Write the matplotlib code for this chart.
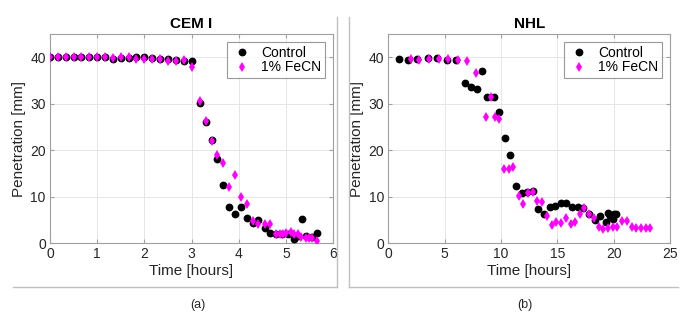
import matplotlib
matplotlib.use("Agg")
import matplotlib.pyplot as plt
from matplotlib.lines import Line2D

plt.rcParams['font.family'] = ['Liberation Sans', 'DejaVu Sans']

# ---- CEM I data ----
cem_ctrl_t = [0, 0.167, 0.333, 0.5, 0.667, 0.833, 1.0, 1.167, 1.333, 1.5, 1.667, 1.833,
              2.0, 2.167, 2.333, 2.5, 2.667, 2.833, 3.0,
              3.17, 3.30, 3.43, 3.55, 3.67, 3.80, 3.92, 4.05, 4.17, 4.30, 4.42, 4.55,
              4.67, 4.80, 4.92, 5.05, 5.17, 5.25, 5.35, 5.43, 5.55, 5.67]
cem_ctrl_v = [40, 40, 40, 40, 40, 40, 40, 40, 39.6, 39.8, 39.8, 40,
              40, 39.9, 39.7, 39.6, 39.4, 39.2, 39.1,
              30.1, 26.0, 22.2, 18.1, 12.6, 7.7, 6.2, 7.9, 5.5, 4.4, 5.0, 3.2,
              2.2, 2.1, 2.0, 1.9, 0.9, 1.5, 5.3, 1.5, 1.4, 2.3]

cem_fecn_t = [0, 0.167, 0.333, 0.5, 0.667, 0.833, 1.0, 1.167, 1.333, 1.5, 1.667, 1.833,
              2.0, 2.167, 2.333, 2.5, 2.667, 2.833, 3.0,
              3.17, 3.30, 3.43, 3.55, 3.67, 3.80, 3.92, 4.05, 4.17, 4.30, 4.42, 4.55,
              4.67, 4.79, 4.87, 4.94, 5.01, 5.11, 5.18, 5.26, 5.33, 5.42, 5.49, 5.56, 5.67]
cem_fecn_v = [40, 40, 40, 40, 40, 40, 40, 40, 39.8, 40, 40, 39.6,
              39.6, 39.6, 39.7, 39.2, 39.3, 39.5, 37.8,
              30.5, 26.3, 21.9, 18.9, 17.3, 12.1, 14.6, 10.0, 8.5, 4.8, 4.1, 4.1,
              4.1, 2.1, 2.1, 2.1, 2.3, 2.4, 2.1, 1.9, 1.4, 1.1, 1.1, 1.1, 0.5]

# ---- NHL data ----
nhl_ctrl_t = [0.98, 1.78, 2.57, 3.55, 4.35, 5.18, 6.0, 6.8, 7.34, 7.84, 8.31, 8.79, 9.38,
              9.82, 10.33, 10.83, 11.3, 11.9, 12.28, 12.8, 13.3, 13.8, 14.35, 14.8, 15.3,
              15.8, 16.3, 16.8, 17.3, 17.8, 18.3, 18.8, 19.3, 19.5, 19.7, 19.95, 20.05, 20.2]
nhl_ctrl_v = [39.6, 39.5, 39.6, 39.8, 39.8, 39.5, 39.4, 34.5, 33.7, 33.1, 37.1, 31.5, 31.5,
              28.3, 22.6, 19.0, 12.3, 10.8, 11.1, 11.3, 7.35, 6.2, 7.9, 8.0, 8.6,
              8.7, 7.7, 7.9, 7.5, 6.2, 5.0, 5.9, 4.5, 6.6, 5.8, 5.2, 6.3, 6.4]

nhl_fecn_t = [1.98, 2.75, 3.6, 4.5, 5.33, 6.15, 6.95, 7.78, 8.64, 9.08, 9.47, 9.85,
              10.3, 10.71, 11.1, 11.6, 11.98, 12.37, 12.8, 13.22, 13.6, 14.05, 14.5, 14.88,
              15.3, 15.74, 16.2, 16.57, 17.0, 17.37, 17.8, 18.25, 18.67, 19.08, 19.5, 19.9,
              20.3, 20.74, 21.15, 21.6, 22.0, 22.4, 22.84, 23.25]
nhl_fecn_v = [39.7, 39.5, 39.7, 39.7, 39.6, 39.4, 39.3, 36.6, 27.2, 31.5, 27.2, 26.7,
              16.0, 16.0, 16.4, 10.2, 8.5, 10.8, 11.1, 9.15, 8.9, 5.9, 3.9, 4.6,
              4.4, 5.5, 4.25, 4.6, 6.3, 7.6, 6.3, 5.4, 3.5, 3.0, 3.3, 3.6,
              3.6, 4.75, 4.75, 3.5, 3.2, 3.3, 3.3, 3.3]

W, H = 695, 321
fig = plt.figure(figsize=(W / 100, H / 100), dpi=100)


def make_axes(x0, x1, y0, y1):
    return fig.add_axes([x0 / W, 1 - y1 / H, (x1 - x0) / W, (y1 - y0) / H])


def style(ax, title, xmax, xstep):
    ax.set_xlim(0, xmax)
    ax.set_ylim(0, 45)
    ax.set_xticks(range(0, xmax + 1, xstep))
    ax.set_yticks([0, 10, 20, 30, 40])
    ax.grid(True, color='#e6e6e6', linewidth=0.7)
    ax.set_axisbelow(True)
    for s in ax.spines.values():
        s.set_color('#a0a0a0')
        s.set_linewidth(0.8)
    ax.tick_params(direction='in', length=3, color='#a0a0a0', labelsize=10,
                   labelcolor='#262626', pad=3, top=True, right=True)
    ax.set_title(title, fontsize=11, fontweight='bold', pad=4)
    ax.set_xlabel('Time [hours]', fontsize=11, color='#262626', labelpad=2)
    ax.set_ylabel('Penetration [mm]', fontsize=11, color='#262626', labelpad=3)


def draw(ax, ct, cv, ft, fv):
    ax.plot(ct, cv, 'o', color='black', markersize=4.6, label='Control', zorder=3)
    ax.plot(ft, fv, 'd', color='#ff00ff', markersize=5.5, markeredgewidth=0,
            label='1% FeCN', zorder=4)
    leg = ax.legend(loc='upper right', fontsize=10, frameon=True, fancybox=False,
                    edgecolor='#808080', borderaxespad=0.6, handletextpad=0.6,
                    handlelength=1.6, labelspacing=0.05, borderpad=0.25)
    leg.get_frame().set_linewidth(0.8)


ax1 = make_axes(50, 333, 34, 243.3)
draw(ax1, cem_ctrl_t, cem_ctrl_v, cem_fecn_t, cem_fecn_v)
style(ax1, 'CEM I', 6, 1)

ax2 = make_axes(388.3, 670, 34, 243.3)
draw(ax2, nhl_ctrl_t, nhl_ctrl_v, nhl_fecn_t, nhl_fecn_v)
style(ax2, 'NHL', 25, 5)

# subfigure frames
frame_col = '#c0c0c0'
for xs, ys in [((13, 337), (286.5, 286.5)), ((337, 337), (17, 286.5)),
               ((349, 349), (17, 286.5)), ((349, 678), (286.5, 286.5))]:
    fig.add_artist(Line2D([x / W for x in xs], [1 - y / H for y in ys],
                          color=frame_col, linewidth=1))

fig.text(198 / W, 1 - 305 / H, '(a)', ha='center', va='center', fontsize=9, color='#262626')
fig.text(525 / W, 1 - 305 / H, '(b)', ha='center', va='center', fontsize=9, color='#262626')

fig.savefig('out.png', dpi=100)
